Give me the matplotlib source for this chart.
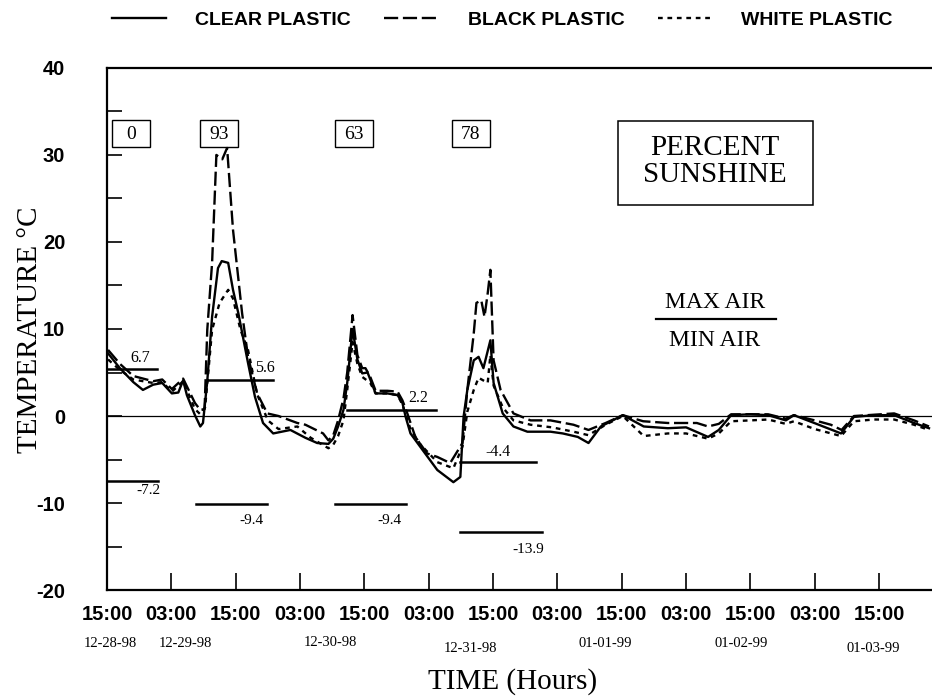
import numpy as np
import matplotlib
matplotlib.use("Agg")
import matplotlib.pyplot as plt
from matplotlib.patches import Rectangle

# hours after 15:00 on 12-28-98
clear_h = [0.2, 2.4, 4.9, 6.7, 8.6, 10.3, 12.1, 13.3, 14.2, 14.9, 16.4, 17.4, 17.9, 18.7,
           19.6, 20.7, 21.4, 22.6, 23.5, 24.5, 26.3, 27.6, 29.1, 31.0, 34.2, 37.0, 39.2,
           41.3, 42.2, 43.1, 44.1, 44.8, 45.8, 46.7, 47.6, 48.6, 49.1, 50.1, 52.3, 54.2,
           55.1, 55.7, 56.6, 58.5, 61.6, 64.6, 65.9, 66.5, 67.2, 68.4, 69.3, 70.2, 71.5,
           72.1, 73.8, 75.8, 78.4, 82.7, 85.0, 87.8, 89.8, 92.1, 96.2, 100.1, 104.6,
           108.0, 112.1, 114.1, 116.4, 120.0, 123.3, 126.6, 128.1, 131.9, 136.9, 139.3,
           143.0, 146.8, 150.5, 153.3]
clear_t = [7.2, 5.5, 3.9, 3.0, 3.6, 3.8, 2.6, 2.7, 4.1, 2.4, 0.1, -1.2, -0.8, 4.0,
           11.4, 17.0, 17.8, 17.6, 14.5, 11.8, 6.1, 2.2, -0.8, -2.0, -1.6, -2.5, -3.1,
           -3.2, -2.6, -1.2, 0.7, 3.8, 10.0, 6.5, 4.9, 5.0, 4.2, 2.6, 2.6, 2.4,
           1.5, -0.1, -2.0, -3.6, -6.2, -7.6, -7.0, -0.1, 3.0, 6.4, 6.8, 5.5, 8.7,
           3.8, 0.3, -1.2, -1.8, -1.8, -2.0, -2.4, -3.1, -1.2, 0.1, -1.2, -1.4,
           -1.3, -2.4, -1.6, 0.1, 0.2, 0.1, -0.5, 0.1, -0.8, -2.0, -0.1,
           0.1, 0.1, -0.8, -1.4]

black_h = [0.2, 2.4, 4.9, 8.6, 10.3, 12.1, 14.2, 16.4, 17.4, 18.2, 18.7, 19.6, 20.4,
           21.5, 22.4, 23.5, 25.2, 26.3, 28.0, 29.9, 32.0, 35.5, 37.0, 40.3, 41.3, 42.2,
           43.1, 44.1, 44.8, 45.8, 46.7, 47.6, 48.2, 49.1, 50.1, 52.3, 54.2, 55.1, 55.9,
           57.5, 59.7, 61.6, 64.0, 66.3, 67.2, 68.4, 68.9, 69.8, 70.4, 71.0, 71.5, 71.7,
           72.1, 73.4, 75.8, 79.0, 82.7, 87.0, 89.8, 93.0, 96.2, 100.0, 104.6, 110.0,
           112.1, 114.1, 116.4, 120.0, 123.3, 126.6, 128.1, 132.0, 135.0, 137.0, 139.3,
           146.8, 150.5, 153.3]
black_t = [7.6, 6.0, 4.6, 4.0, 4.2, 3.1, 4.3, 1.5, 0.7, 0.8, 9.9, 17.6, 30.0,
           29.5, 30.8, 21.4, 11.8, 6.8, 2.6, 0.3, 0.0, -0.8, -1.0, -2.0, -2.8, -2.2,
           -0.5, 2.0, 5.0, 11.6, 7.0, 5.5, 5.5, 4.5, 2.9, 2.9, 2.8, 1.8, 0.5,
           -2.4, -4.3, -4.7, -5.4, -3.1, 3.0, 9.5, 13.0, 13.3, 11.4, 14.1, 16.8, 13.3,
           6.4, 3.0, 0.3, -0.5, -0.5, -1.0, -1.6, -0.8, 0.1, -0.6, -0.8, -0.8,
           -1.2, -0.9, 0.2, 0.2, 0.2, -0.3, 0.1, -0.5, -1.0, -1.6, 0.0,
           0.3, -0.5, -1.2]

white_h = [0.2, 2.4, 4.9, 8.6, 10.3, 12.1, 14.2, 16.4, 17.4, 18.3, 19.6, 21.0, 22.6,
           23.5, 24.9, 26.3, 28.0, 30.0, 32.0, 35.5, 38.0, 41.3, 42.2, 43.1, 44.1, 44.8,
           45.8, 46.7, 47.6, 49.1, 50.1, 52.3, 54.2, 55.1, 56.6, 58.5, 61.6, 64.6, 66.3,
           67.2, 68.4, 69.3, 71.0, 71.5, 72.1, 73.8, 75.8, 79.0, 83.0, 87.0, 89.8, 93.0,
           96.2, 100.1, 104.6, 108.0, 112.1, 114.1, 116.4, 120.0, 123.3, 126.6, 128.1,
           132.0, 136.9, 139.3, 143.0, 146.8, 150.5, 153.3]
white_t = [6.5, 5.3, 4.2, 3.8, 3.9, 2.8, 4.0, 0.8, 0.2, 1.0, 9.9, 13.0, 14.5,
           13.5, 9.9, 7.6, 2.5, -0.5, -1.5, -1.2, -2.5, -3.7, -3.3, -2.3, -0.5, 3.0,
           8.5, 6.0, 4.5, 3.8, 2.6, 2.6, 2.4, 1.3, -1.5, -3.3, -5.3, -6.0, -3.5,
           0.5, 3.0, 4.4, 3.8, 7.0, 3.5, 1.0, -0.5, -1.0, -1.3, -1.8, -2.2, -1.0,
           0.0, -2.3, -2.0, -2.0, -2.6, -2.0, -0.6, -0.5, -0.4, -0.9, -0.6,
           -1.5, -2.3, -0.6, -0.4, -0.4, -1.0, -1.6]

# daily max / min air temperature bars (level as drawn, start, end)
max_lvl = [5.4, 4.1, 0.7, -5.3]
max_start = [0.0, 18.9, 44.8, 65.9]
max_end = [9.3, 31.0, 61.3, 80.0]
max_txt = ["6.7", "5.6", "2.2", "-4.4"]
max_txt_h = [6.2, 29.5, 58.1, 73.0]
max_txt_t = [6.7, 5.5, 2.1, -4.1]
min_lvl = [-7.5, -10.1, -10.1, -13.3]
min_start = [0.0, 16.6, 42.6, 65.9]
min_end = [9.5, 29.9, 55.7, 81.2]
min_txt = ["-7.2", "-9.4", "-9.4", "-13.9"]
min_txt_h = [7.7, 26.9, 52.7, 78.6]
min_txt_t = [-8.5, -12.0, -12.0, -15.3]

sun_h = [4.5, 20.9, 46.0, 67.8]
sun_pct = ["0", "93", "63", "78"]

tick_hours = list(range(0, 145, 12))
tick_labels = ["15:00", "03:00"] * 6 + ["15:00"]
date_h = [0.6, 14.6, 41.7, 67.8, 93.0, 118.2, 142.9]
date_y = [-0.103, -0.103, -0.100, -0.111, -0.102, -0.102, -0.111]
date_lbl = ["12-28-98", "12-29-98", "12-30-98", "12-31-98", "01-01-99", "01-02-99", "01-03-99"]

serif = "Liberation Serif"
sans = "Liberation Sans"

fig = plt.figure(figsize=(9.32, 7.0), dpi=100)
ax = fig.add_axes([0.1148, 0.157, 0.886, 0.746])

lw = 1.7
l1, = ax.plot(clear_h, clear_t, color="black", lw=lw, ls="-")
l2, = ax.plot(black_h, black_t, color="black", lw=lw, ls=(0, (6, 2)))
l3, = ax.plot(white_h, white_t, color="black", lw=lw, ls=(0, (2, 2)))
ax.axhline(0, color="black", lw=0.9)

for lv, a, b in zip(max_lvl, max_start, max_end):
    ax.plot([a, b], [lv, lv], color="black", lw=1.8)
for lv, a, b in zip(min_lvl, min_start, min_end):
    ax.plot([a, b], [lv, lv], color="black", lw=1.8)

for h, t, s in zip(max_txt_h, max_txt_t, max_txt):
    ax.text(h, t, s, family=serif, fontsize=11.5, ha="center", va="center")
for h, t, s in zip(min_txt_h, min_txt_t, min_txt):
    ax.text(h, t, s, family=serif, fontsize=11, ha="center", va="center")

for h, p in zip(sun_h, sun_pct):
    ax.add_patch(Rectangle((h - 3.55, 30.9), 7.1, 3.1, fc="white", ec="black", lw=1.0))
    ax.text(h, 32.4, p, family=serif, fontsize=14, ha="center", va="center")

ax.add_patch(Rectangle((95.3, 24.3), 36.4, 9.6, fc="white", ec="black", lw=1.1))
ax.text(113.4, 29.2, "PERCENT\nSUNSHINE", family=serif, fontsize=21, ha="center",
        va="center", linespacing=1.05)
ax.text(113.4, 13.0, "MAX AIR", family=serif, fontsize=17, ha="center", va="center")
ax.plot([102.4, 124.8], [11.1, 11.1], color="black", lw=1.6)
ax.text(113.4, 8.7, "MIN AIR", family=serif, fontsize=17, ha="center", va="center")

ax.set_xlim(0, 154)
ax.set_ylim(-20, 40)
ax.set_xticks(tick_hours)
ax.set_xticklabels(tick_labels, family=sans, fontsize=14.5, fontweight="bold")
ax.set_yticks(np.arange(-20, 41, 5))
ax.set_yticklabels([str(v) if v % 10 == 0 else "" for v in range(-20, 41, 5)],
                   family=sans, fontsize=14.5, fontweight="bold")
ax.tick_params(axis="x", direction="in", length=12, width=1.2, pad=11)
ax.tick_params(axis="y", direction="in", length=11, width=1.2, pad=30)
ax.spines["right"].set_visible(False)
for s in ["top", "left", "bottom"]:
    ax.spines[s].set_linewidth(1.6)

tr = ax.get_xaxis_transform()
for h, y, d in zip(date_h, date_y, date_lbl):
    ax.text(h, y, d, transform=tr, family=serif, fontsize=10.5, ha="center", va="center")

fig.text(0.55, 0.026, "TIME (Hours)", family=serif, fontsize=21, ha="center", va="center")
fig.text(0.032, 0.529, "TEMPERATURE °C", family=serif, fontsize=21, ha="center",
         va="center", rotation=90)

fig.legend([l1, l2, l3], ["CLEAR PLASTIC", "BLACK PLASTIC", "WHITE PLASTIC"],
           loc="center", bbox_to_anchor=(0.539, 0.971), ncol=3, frameon=False,
           handlelength=2.8, handletextpad=1.5, columnspacing=1.7,
           prop=dict(family=sans, size=14, weight="bold"))

fig.savefig("out.png", dpi=100)
